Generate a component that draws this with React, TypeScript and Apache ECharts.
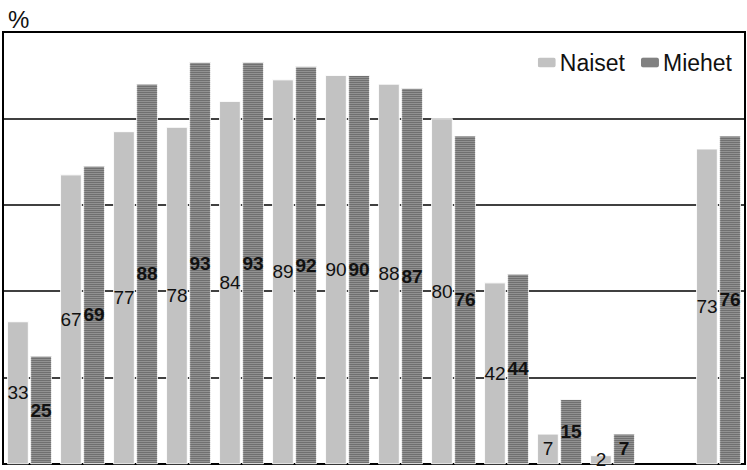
import { useEffect, useRef } from 'react';
import * as echarts from 'echarts';

// age groups (axis labels are not shown in the figure)
const categories = [
  '15–19', '20–24', '25–29', '30–34', '35–39', '40–44', '45–49',
  '50–54', '55–59', '60–64', '65–69', '70–74', '', 'Yhteensä',
];
const naiset: (number | string)[] = [33, 67, 77, 78, 84, 89, 90, 88, 80, 42, 7, 2, '-', 73];
const miehet: (number | string)[] = [25, 69, 88, 93, 93, 92, 90, 87, 76, 44, 15, 7, '-', 76];
const yTicks = [0, 20, 40, 60, 80, 100];

const TEXT_FONT = '"Liberation Sans", "Open Sans", sans-serif';

export default function App() {
  const ref = useRef<HTMLDivElement | null>(null);

  useEffect(() => {
    if (!ref.current) return;
    const chart = echarts.init(ref.current, undefined, { renderer: 'svg' });

    const label = (bold: boolean) => ({
      show: true,
      position: 'inside',
      color: '#111',
      fontSize: 19,
      fontWeight: bold ? 600 : 'normal',
      fontFamily: TEXT_FONT,
    });

    chart.setOption({
      animation: false,
      title: {
        text: '%',
        left: 3,
        top: 2,
        textStyle: { fontSize: 24, fontWeight: 'normal', color: '#111', fontFamily: TEXT_FONT },
      },
      legend: {
        right: 10,
        top: 46,
        itemWidth: 20,
        itemHeight: 12,
        itemGap: 14,
        textStyle: { fontSize: 23, color: '#111', fontFamily: TEXT_FONT, padding: [0, 0, 0, -2] },
        data: ['Naiset', 'Miehet'],
      },
      grid: {
        left: 3,
        right: 2,
        top: 32,
        bottom: 6,
        show: true,
        borderColor: '#000',
        borderWidth: 2,
        backgroundColor: 'transparent',
      },
      xAxis: {
        type: 'category',
        data: categories,
        axisLine: { show: false },
        axisTick: { show: false },
        axisLabel: { show: false },
      },
      yAxis: {
        type: 'value',
        min: yTicks[0],
        max: yTicks[yTicks.length - 1],
        interval: 20,
        axisLine: { show: false },
        axisTick: { show: false },
        axisLabel: { show: false },
        splitLine: { lineStyle: { color: '#000', width: 1.6 } },
      },
      series: [
        {
          name: 'Naiset',
          type: 'bar',
          data: naiset,
          barGap: '8%',
          barCategoryGap: '16%',
          itemStyle: {
            color: '#c2c2c2',
            borderColor: '#fff',
            borderWidth: 0.6,
            decal: {
              symbol: 'circle',
              symbolSize: 0.5,
              dashArrayX: [2, 1],
              dashArrayY: [2, 1],
              color: 'rgba(120,120,120,0.35)',
            },
          },
          label: label(false),
        },
        {
          name: 'Miehet',
          type: 'bar',
          data: miehet,
          itemStyle: {
            color: '#929292',
            borderColor: '#fff',
            borderWidth: 0.6,
            decal: {
              symbol: 'rect',
              dashArrayX: [1, 0],
              dashArrayY: [1, 1],
              color: 'rgba(60,60,60,0.4)',
            },
          },
          label: label(true),
        },
      ],
    });

    const handleResize = () => chart.resize();
    window.addEventListener('resize', handleResize);
    return () => {
      window.removeEventListener('resize', handleResize);
      chart.dispose();
    };
  }, []);

  return <div ref={ref} style={{ width: 747, height: 470, position: 'absolute', left: 0, top: 0 }} />;
}
